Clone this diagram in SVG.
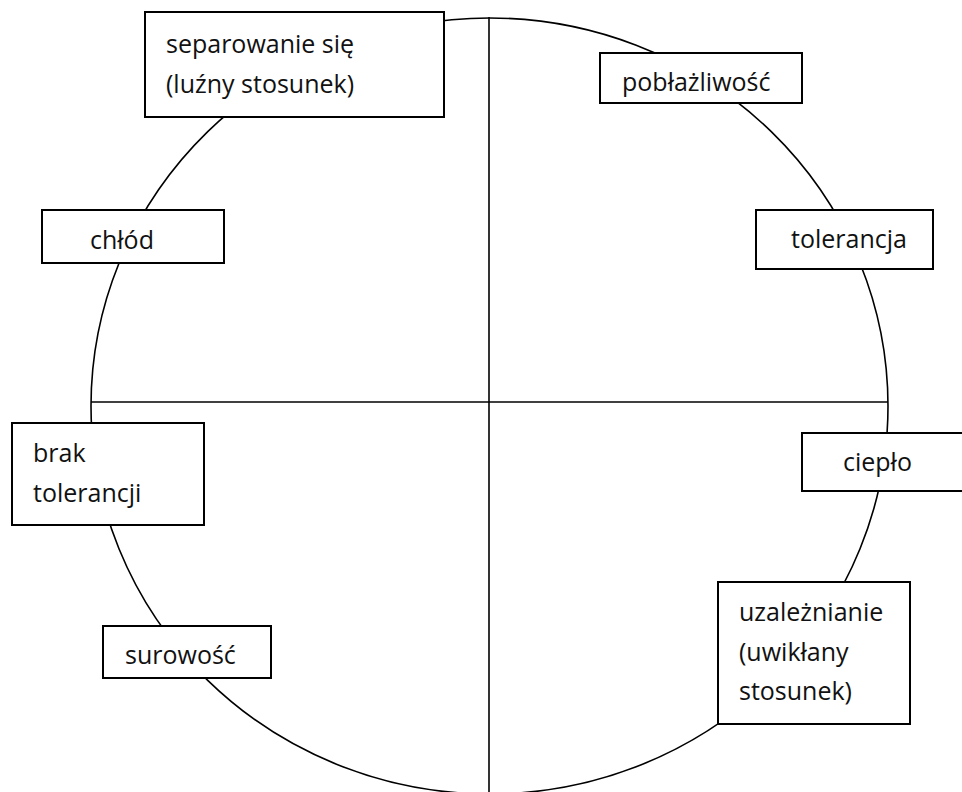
<svg xmlns="http://www.w3.org/2000/svg" width="962" height="792" viewBox="0 0 962 792">
<style>
.bg{fill:#fff}
.ring{fill:none;stroke:#000;stroke-width:1.6}
.axis{stroke:#000;stroke-width:1.6}
.box{fill:#fff;stroke:#000;stroke-width:2}
.t{font-family:"Open Sans","Liberation Sans",sans-serif;font-size:25px;fill:#111}
</style>
<rect class="bg" width="962" height="792"/>
<g id="connectors">
<ellipse class="ring" cx="489.5" cy="406" rx="398.5" ry="388"/>
<line class="axis" x1="489" y1="17" x2="489" y2="792"/>
<line class="axis" x1="91" y1="402" x2="888" y2="402"/>
</g>
<g id="separowanie">
<rect class="box" x="145" y="12" width="299" height="105"/>
<text class="t" x="166" y="53">separowanie się</text>
<text class="t" x="166" y="93">(luźny stosunek)</text>
</g>
<g id="poblazliwosc">
<rect class="box" x="600" y="53" width="202" height="50"/>
<text class="t" x="622" y="91">pobłażliwość</text>
</g>
<g id="chlod">
<rect class="box" x="42" y="210" width="182" height="53"/>
<text class="t" x="90" y="249">chłód</text>
</g>
<g id="tolerancja">
<rect class="box" x="756" y="210" width="177" height="59"/>
<text class="t" x="791" y="248">tolerancja</text>
</g>
<g id="brak-tolerancji">
<rect class="box" x="12" y="423" width="192" height="102"/>
<text class="t" x="33" y="462">brak</text>
<text class="t" x="33" y="502">tolerancji</text>
</g>
<g id="cieplo">
<rect class="box" x="802" y="433" width="170" height="58"/>
<text class="t" x="843" y="471">ciepło</text>
</g>
<g id="surowosc">
<rect class="box" x="103" y="626" width="168" height="52"/>
<text class="t" x="125" y="664">surowość</text>
</g>
<g id="uzaleznianie">
<rect class="box" x="718" y="582" width="192" height="142"/>
<text class="t" x="739" y="621">uzależnianie</text>
<text class="t" x="739" y="661">(uwikłany</text>
<text class="t" x="739" y="700">stosunek)</text>
</g>
</svg>
